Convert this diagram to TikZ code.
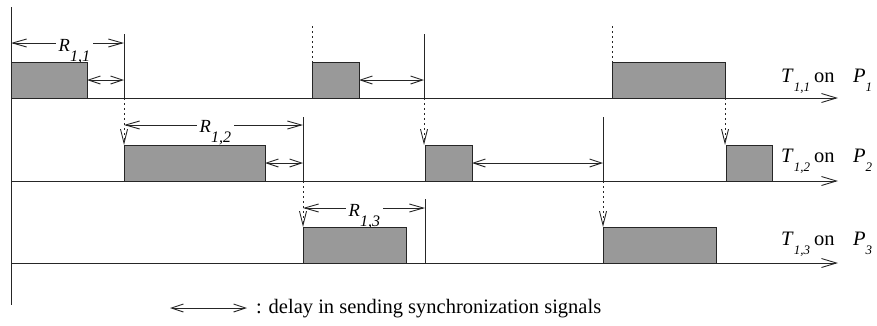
\documentclass[tikz,border=0pt]{standalone}
\usepackage{fontspec}
\setmainfont{Liberation Serif}
\usetikzlibrary{arrows.meta}
\newcommand\rsub[2]{\textit{#1}\raisebox{-10pt}{\fontsize{16}{16}\selectfont\textit{#2}}}
\newcommand\tsub[2]{\textit{#1}\raisebox{-9pt}{\fontsize{13}{13}\selectfont\textit{#2}}}
\begin{document}
\begin{tikzpicture}[x=1pt,y=-1pt,
  ln/.style={line width=0.9pt, draw=black!85},
  task/.style={draw=black!85, line width=0.9pt, fill=black!40, anchor=south west,
    inner sep=0pt, outer sep=0pt, minimum height=36pt},
  axis/.style={ln, -{Straight Barb[length=15pt,width=9pt]}},
  sync/.style={ln, dash pattern=on 1.5pt off 3.5pt, -{Straight Barb[length=14pt,width=7pt]}},
  presync/.style={ln, dash pattern=on 1.5pt off 3.5pt},
  dly/.style={ln, {Straight Barb[length=12pt,width=8pt]}-{Straight Barb[length=12pt,width=8pt]}},
  resp/.style={ln, {Straight Barb[length=14pt,width=8pt]}-{Straight Barb[length=14pt,width=8pt]}},
  txt/.style={font=\fontsize{20.5}{22}\selectfont, inner sep=0pt, anchor=base west},
  rlab/.style={font=\fontsize{18.5}{20}\selectfont, inner xsep=2.5pt, inner ysep=0.5pt, fill=white, anchor=base west}
]
\useasboundingbox (0,0) rectangle (877,325);

% time axis and row axes
\coordinate (top) at (11,7);
\coordinate (bot) at (11,305);
\draw[ln] (top) -- (bot);
\coordinate (a1) at (11,98);  \coordinate (e1) at (838,98);
\coordinate (a2) at (11,181); \coordinate (e2) at (838,181);
\coordinate (a3) at (11,263); \coordinate (e3) at (838,263);
\draw[axis] (a1) -- (e1);
\draw[axis] (a2) -- (e2);
\draw[axis] (a3) -- (e3);

% response times (drawn before the boxes)
\coordinate (r1s) at (11,43);  \coordinate (r1e) at (124,43);
\coordinate (r2s) at (124,125); \coordinate (r2e) at (303,125);
\coordinate (r3s) at (303,208); \coordinate (r3e) at (425,208);
\draw[resp] (r1s) -- (r1e);
\draw[resp] (r2s) -- (r2e);
\draw[resp] (r3s) -- (r3e);
\node[rlab] (R1) at (56,51)  {\rsub{R}{1,1}};
\node[rlab] (R2) at (197,132) {\rsub{R}{1,2}};
\node[rlab] (R3) at (346,216) {\rsub{R}{1,3}};

% task boxes
\node[task, minimum width=76pt]  (b11) at (11,98)  {};
\node[task, minimum width=47pt]  (b12) at (312,98) {};
\node[task, minimum width=113pt] (b13) at (612,98) {};
\node[task, minimum width=141pt] (b21) at (124,181) {};
\node[task, minimum width=47pt]  (b22) at (425,181) {};
\node[task, minimum width=46pt]  (b23) at (726,181) {};
\node[task, minimum width=103pt] (b31) at (303,263) {};
\node[task, minimum width=113pt] (b32) at (603,263) {};

% completion marks
\coordinate (v11t) at (124,34);  \coordinate (v11b) at (124,98);
\coordinate (v12t) at (424,34);  \coordinate (v12b) at (424,98);
\coordinate (v21t) at (303,117); \coordinate (v21b) at (303,181);
\coordinate (v22t) at (603,117); \coordinate (v22b) at (603,181);
\coordinate (v31t) at (425,199); \coordinate (v31b) at (425,263);
\draw[ln] (v11t) -- (v11b);
\draw[ln] (v12t) -- (v12b);
\draw[ln] (v21t) -- (v21b);
\draw[ln] (v22t) -- (v22b);
\draw[ln] (v31t) -- (v31b);

% delays
\draw[dly] (b11.east) -- (b11.east -| v11t);
\draw[dly] (b12.east) -- (b12.east -| v12t);
\draw[dly] (b21.east) -- (b21.east -| v21t);
\draw[dly] (b22.east) -- (b22.east -| v22t);

% synchronization signals
\coordinate (p12) at (312,26);
\coordinate (p13) at (612,26);
\draw[presync] (p12) -- (b12.north west);
\draw[presync] (p13) -- (b13.north west);
\draw[sync] (v11b) -- (b21.north west);
\draw[sync] (v12b) -- (v12b |- b22.north west);
\draw[sync] (b13.south east) -- (b13.south east |- b23.north west);
\draw[sync] (v21b) -- (b31.north west);
\draw[sync] (v22b) -- (b32.north west);

% row labels
\node[txt] (T1) at (781,82)  {\tsub{T}{1,1}};
\node[txt] (O1) at (814,82)  {on};
\node[txt] (P1) at (853,82)  {\tsub{P}{1}};
\node[txt] (T2) at (781,162) {\tsub{T}{1,2}};
\node[txt] (O2) at (814,162) {on};
\node[txt] (P2) at (853,162) {\tsub{P}{2}};
\node[txt] (T3) at (781,245) {\tsub{T}{1,3}};
\node[txt] (O3) at (814,245) {on};
\node[txt] (P3) at (853,245) {\tsub{P}{3}};

% legend
\coordinate (k1) at (170,308); \coordinate (k2) at (247,308);
\draw[dly] (k1) -- (k2);
\node[txt] (leg) at (256,313) {: delay in sending synchronization signals};
\end{tikzpicture}
\end{document}
